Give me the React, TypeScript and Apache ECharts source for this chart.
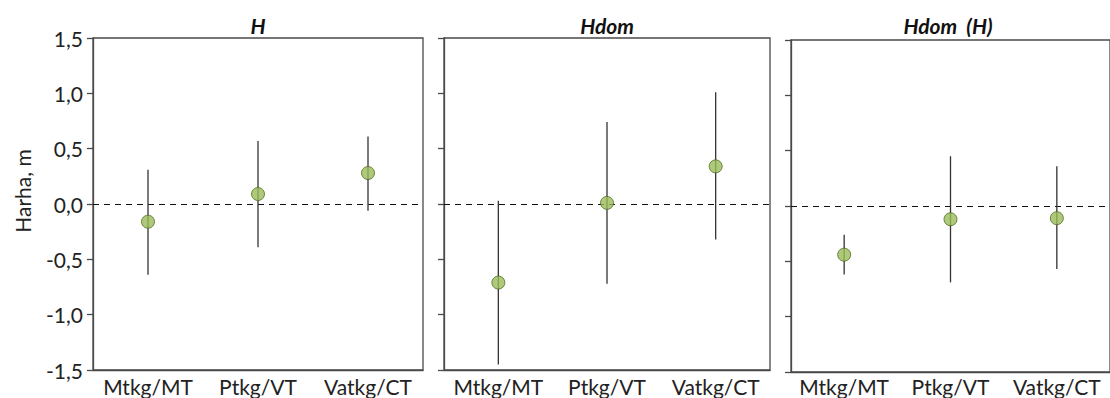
import React, { useEffect, useRef } from "react";
import * as echarts from "echarts";

const categories = ["Mtkg/MT", "Ptkg/VT", "Vatkg/CT"];
const panelTitles = ["H", "Hdom", "Hdom  (H)"];

// mean, lower, upper per panel
const meanH = [-0.16, 0.09, 0.28];
const lowH = [-0.64, -0.39, -0.06];
const highH = [0.31, 0.57, 0.61];

const meanHdom = [-0.71, 0.01, 0.34];
const lowHdom = [-1.45, -0.72, -0.32];
const highHdom = [0.03, 0.74, 1.01];

const meanHdomH = [-0.44, -0.12, -0.11];
const lowHdomH = [-0.62, -0.69, -0.57];
const highHdomH = [-0.26, 0.45, 0.36];

const yTicks = [-1.5, -1.0, -0.5, 0.0, 0.5, 1.0, 1.5];
const yAxisName = "Harha, m";

const FONT = "Lato";
const AXIS_COLOR = "#4a4a4a";

export default function App() {
  const ref = useRef<HTMLDivElement>(null);
  useEffect(() => {
    if (!ref.current) return;
    const chart = echarts.init(ref.current, null, { renderer: "svg" });
    const panels = [
      { mean: meanH, low: lowH, high: highH, left: 93, width: 330, top: 38, titleX: 258, lm: 6 },
      { mean: meanHdom, low: lowHdom, high: highHdom, left: 444, width: 326, top: 38, titleX: 607, lm: 6 },
      { mean: meanHdomH, low: lowHdomH, high: highHdomH, left: 791, width: 324, top: 40, titleX: 948, lm: 4 },
    ];
    const grids = panels.map((p) => ({
      left: p.left,
      width: p.width,
      top: p.top,
      height: 332,
      show: true,
      borderColor: AXIS_COLOR,
      borderWidth: 1.3,
      backgroundColor: "transparent",
    }));
    const xAxes = panels.map((p, i) => ({
      type: "category",
      gridIndex: i,
      data: categories,
      axisLine: { show: true, onZero: false, lineStyle: { color: AXIS_COLOR, width: 1.3 } },
      axisTick: { show: false },
      axisLabel: {
        color: "#222",
        fontSize: 21,
        fontFamily: FONT,
        margin: p.lm,
        interval: 0,
        hideOverlap: false,
      },
    }));
    const yAxes = panels.map((p, i) => ({
      type: "value",
      gridIndex: i,
      min: -1.5,
      max: 1.5,
      interval: 0.5,
      splitLine: { show: false },
      axisLine: { show: true, onZero: false, lineStyle: { color: AXIS_COLOR, width: 1.3 } },
      axisTick: { show: true, length: 6, lineStyle: { color: AXIS_COLOR, width: 1.3 } },
      axisLabel: {
        show: i === 0,
        color: "#222",
        fontSize: 21,
        fontFamily: FONT,
        margin: 10,
        formatter: (v: number) => {
          const t = yTicks.find((x) => Math.abs(x - v) < 1e-9);
          return (t !== undefined ? t : v).toFixed(1).replace(".", ",");
        },
      },
    }));
    const series: any[] = [];
    panels.forEach((p, i) => {
      series.push({
        type: "custom",
        xAxisIndex: i,
        yAxisIndex: i,
        data: categories.map((c, k) => [k, p.low[k], p.high[k]]),
        renderItem: (params: any, api: any) => {
          const a = api.coord([api.value(0), api.value(1)]);
          const b = api.coord([api.value(0), api.value(2)]);
          return {
            type: "line",
            shape: { x1: a[0], y1: a[1], x2: b[0], y2: b[1] },
            style: { stroke: "#333", lineWidth: 1.3 },
          };
        },
        z: 2,
      });
      series.push({
        type: "scatter",
        xAxisIndex: i,
        yAxisIndex: i,
        data: categories.map((c, k) => [k, p.mean[k]]),
        symbol: "circle",
        symbolSize: 13,
        itemStyle: { color: "#9bbb59", borderColor: "#4f6b22", borderWidth: 1 },
        z: 3,
        markLine: {
          silent: true,
          symbol: "none",
          label: { show: false },
          z: 1,
          lineStyle: { color: "#111", type: [6, 5], width: 1.2 },
          data: [{ yAxis: 0 }],
        },
      });
    });
    const graphic: any[] = panels.map((p, i) => ({
      type: "text",
      x: p.titleX,
      y: 25,
      style: {
        text: panelTitles[i],
        fontSize: 21,
        fontWeight: "bold",
        fontStyle: "italic",
        fontFamily: FONT,
        fill: "#111",
        align: "center",
        verticalAlign: "middle",
      },
    }));
    graphic.push({
      type: "text",
      x: 22,
      y: 191,
      rotation: Math.PI / 2,
      style: {
        text: yAxisName,
        fontSize: 21,
        fontFamily: FONT,
        fill: "#222",
        align: "center",
        verticalAlign: "middle",
      },
    });
    chart.setOption({
      animation: false,
      backgroundColor: "#fff",
      grid: grids,
      xAxis: xAxes,
      yAxis: yAxes,
      series,
      graphic,
    });
    return () => chart.dispose();
  }, []);
  return (
    <div
      ref={ref}
      style={{ position: "fixed", left: 0, top: 0, width: 1110, height: 398 }}
    />
  );
}
